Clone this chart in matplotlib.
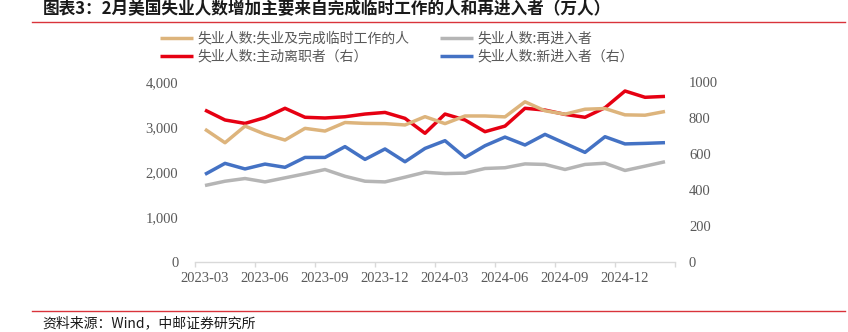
import matplotlib
matplotlib.use("Agg")
import matplotlib.pyplot as plt
from matplotlib.lines import Line2D
from matplotlib.ticker import FuncFormatter, FixedLocator

plt.rcParams["font.family"] = ["Noto Sans CJK SC", "DejaVu Sans"]

months = [
    "2023-03", "2023-04", "2023-05", "2023-06", "2023-07", "2023-08",
    "2023-09", "2023-10", "2023-11", "2023-12", "2024-01", "2024-02",
    "2024-03", "2024-04", "2024-05", "2024-06", "2024-07", "2024-08",
    "2024-09", "2024-10", "2024-11", "2024-12", "2025-01", "2025-02",
]

# left axis
job_losers_temp = [
    2950, 2650, 3020, 2840, 2710, 2970, 2910, 3100,
    3080, 3075, 3045, 3230, 3075, 3245, 3245, 3225,
    3560, 3360, 3285, 3395, 3410, 3270, 3262, 3345,
]
reentrants = [
    1700, 1795, 1855, 1780, 1870, 1960, 2055, 1905,
    1795, 1780, 1885, 1995, 1965, 1975, 2078, 2095,
    2180, 2168, 2056, 2168, 2195, 2034, 2130, 2228,
]

# right axis
job_leavers = [
    844, 789, 770, 802, 854, 804, 800, 807,
    822, 831, 798, 715, 822, 789, 724, 755,
    854, 844, 820, 804, 857, 950, 915, 920,
]
new_entrants = [
    487, 548, 517, 544, 526, 581, 581, 641,
    570, 628, 557, 631, 674, 581, 646, 694,
    650, 709, 659, 609, 696, 656, 659, 663,
]

label_months = months[::3]

TAN = "#DDB47C"
GRAY = "#B5B5B5"
RED = "#E60012"
BLUE = "#4472C4"
TICK_COLOR = "#595959"
SERIF = ["Liberation Serif", "DejaVu Serif"]

fig = plt.figure(figsize=(8.48, 3.32), dpi=100)
ax = fig.add_axes([195 / 848, 70 / 332, 480 / 848, 180 / 332])
ax2 = ax.twinx()

x = list(range(len(months)))
lw = 2.5
l1, = ax.plot(x, job_losers_temp, color=TAN, lw=lw, solid_capstyle="butt")
l2, = ax.plot(x, reentrants, color=GRAY, lw=lw, solid_capstyle="butt")
l3, = ax2.plot(x, job_leavers, color=RED, lw=lw, solid_capstyle="butt")
l4, = ax2.plot(x, new_entrants, color=BLUE, lw=lw, solid_capstyle="butt")
ax.set_zorder(ax2.get_zorder() + 1)
ax.patch.set_visible(False)

ax.set_xlim(-0.5, len(months) - 0.5)
ax.set_ylim(0, 4000)
ax2.set_ylim(0, 1000)
ax.set_yticks([0, 1000, 2000, 3000, 4000])
ax2.set_yticks([0, 200, 400, 600, 800, 1000])
ax.yaxis.set_major_formatter(FuncFormatter(lambda v, p: f"{int(v):,}"))

ax.set_xticks(x[::3])
ax.set_xticklabels(label_months)
ax.xaxis.set_minor_locator(FixedLocator([i - 0.5 for i in range(0, len(months) + 1, 3)]))

for a in (ax, ax2):
    for s in a.spines.values():
        s.set_visible(False)
ax.spines["bottom"].set_visible(True)
ax.spines["bottom"].set_color("#D9D9D9")
ax.spines["bottom"].set_linewidth(1)

ax.tick_params(axis="x", which="major", length=0, pad=7, labelsize=10.5, labelcolor=TICK_COLOR)
ax.tick_params(axis="x", which="minor", length=3.5, width=1, color="#D9D9D9", direction="out")
ax.tick_params(axis="y", length=0, pad=12, labelsize=10.5, labelcolor=TICK_COLOR)
ax2.tick_params(axis="y", length=0, pad=10, labelsize=10.5, labelcolor=TICK_COLOR)
for lab in ax.get_xticklabels() + ax.get_yticklabels() + ax2.get_yticklabels():
    lab.set_family(SERIF)

fig.legend(
    [l1, l3, l2, l4],
    ["失业人数:失业及完成临时工作的人", "失业人数:主动离职者（右）",
     "失业人数:再进入者", "失业人数:新进入者（右）"],
    ncol=2, loc="upper left", bbox_to_anchor=(160 / 848, 1 - 32 / 332),
    frameon=False, fontsize=10, labelcolor=TICK_COLOR,
    handlelength=2.4, handletextpad=0.3, columnspacing=2.2,
    labelspacing=0.25, borderpad=0, borderaxespad=0,
)

fig.text(43 / 848, 1 - 9 / 332, "图表3：2月美国失业人数增加主要来自完成临时工作的人和再进入者（万人）",
         fontsize=12, fontweight="bold", color="#1A1A1A", va="center", ha="left")
fig.add_artist(Line2D([32 / 848, 845 / 848], [1 - 22 / 332] * 2,
                      transform=fig.transFigure, color="#D9333B", lw=1))
fig.add_artist(Line2D([32 / 848, 845 / 848], [1 - 311 / 332] * 2,
                      transform=fig.transFigure, color="#D9333B", lw=1))
fig.text(42 / 848, 1 - 323 / 332, "资料来源：Wind，中邮证券研究所",
         fontsize=10, color="#1A1A1A", va="center", ha="left")

fig.savefig("out.png", dpi=100)
